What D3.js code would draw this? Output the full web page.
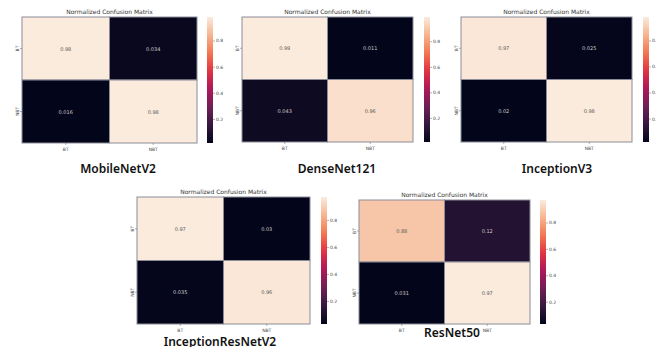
<!DOCTYPE html>
<html>
<head>
<meta charset="utf-8">
<script src="https://cdn.jsdelivr.net/npm/d3@7"></script>
<style>
  html, body { margin: 0; padding: 0; background: #fff; }
  svg { display: block; }
</style>
</head>
<body>
<svg id="chart" width="656" height="347"></svg>
<script>
// Normalized confusion matrices (rows: true class, columns: predicted class)
const classes = ["BT", "NBT"];
const models = ["MobileNetV2", "DenseNet121", "InceptionV3", "InceptionResNetV2", "ResNet50"];
const mobileNetV2 = [[0.98, 0.034], [0.016, 0.98]];
const denseNet121 = [[0.99, 0.011], [0.043, 0.96]];
const inceptionV3 = [[0.97, 0.025], [0.02, 0.98]];
const inceptionResNetV2 = [[0.97, 0.03], [0.035, 0.96]];
const resNet50 = [[0.88, 0.12], [0.031, 0.97]];
const colorbarTicks = [0.2, 0.4, 0.6, 0.8];
const panelTitle = "Normalized Confusion Matrix";

const matrices = [mobileNetV2, denseNet121, inceptionV3, inceptionResNetV2, resNet50];

// Panel placement on the page
const layout = [
  { x0: 22,  x1: 197, y0: 17,  y1: 143, cbx: 207, capX: 118, capY: 168 },
  { x0: 242, x1: 413, y0: 17,  y1: 142, cbx: 424, capX: 337, capY: 168 },
  { x0: 461, x1: 632, y0: 17,  y1: 142, cbx: 643, capX: 557, capY: 168 },
  { x0: 137, x1: 310, y0: 197, y1: 324, cbx: 321, capX: 220, capY: 341 },
  { x0: 359, x1: 530, y0: 200, y1: 324, cbx: 540, capX: 452, capY: 332 }
];

// "rocket" sequential colormap
const rocketPos = [0, 1 / 7, 2 / 7, 3 / 7, 4 / 7, 5 / 7, 6 / 7, 1];
const rocketStops = ["#03051a", "#35193e", "#701f57", "#ad1759", "#e13342", "#f37651", "#f6b48f", "#faebdd"];
const rocket = d3.scaleLinear()
  .domain(rocketPos)
  .range(rocketStops)
  .interpolate(d3.interpolateRgb);

const svg = d3.select("#chart");
svg.append("rect").attr("width", 656).attr("height", 347).attr("fill", "#fff");

const fmt = d3.format(".2~g");
const tickFont = "DejaVu Sans, sans-serif";

matrices.forEach((m, i) => {
  const L = layout[i];
  const g = svg.append("g");
  const flat = m.flat();
  const vmin = d3.min(flat), vmax = d3.max(flat);
  const norm = d3.scaleLinear().domain([vmin, vmax]).range([0, 1]).clamp(true);

  const x = d3.scaleBand().domain(classes).range([L.x0, L.x1]);
  const y = d3.scaleBand().domain(classes).range([L.y0, L.y1]);

  const cells = [];
  m.forEach((row, r) => row.forEach((v, c) => cells.push({ r: classes[r], c: classes[c], v })));

  g.selectAll("rect.cell").data(cells).join("rect")
    .attr("class", "cell")
    .attr("x", d => x(d.c))
    .attr("y", d => y(d.r))
    .attr("width", x.bandwidth())
    .attr("height", y.bandwidth())
    .attr("fill", d => rocket(norm(d.v)))
    .attr("stroke", "#8c8c99")
    .attr("stroke-width", 1);

  g.selectAll("text.annot").data(cells).join("text")
    .attr("class", "annot")
    .attr("x", d => x(d.c) + x.bandwidth() / 2)
    .attr("y", d => y(d.r) + y.bandwidth() / 2)
    .attr("text-anchor", "middle")
    .attr("dominant-baseline", "central")
    .attr("font-family", tickFont)
    .attr("font-size", 5)
    .attr("fill", d => norm(d.v) > 0.5 ? "#555" : "#ccc")
    .text(d => fmt(d.v));

  // title
  g.append("text")
    .attr("x", (L.x0 + L.x1) / 2)
    .attr("y", L.y0 - 3)
    .attr("text-anchor", "middle")
    .attr("font-family", tickFont)
    .attr("font-size", 6)
    .attr("fill", "#333")
    .text(panelTitle);

  // x tick labels
  classes.forEach(cl => {
    const cx = x(cl) + x.bandwidth() / 2;
    g.append("line").attr("x1", cx).attr("x2", cx).attr("y1", L.y1).attr("y2", L.y1 + 2)
      .attr("stroke", "#666").attr("stroke-width", 0.5);
    g.append("text")
      .attr("x", cx).attr("y", L.y1 + 6)
      .attr("text-anchor", "middle").attr("dominant-baseline", "central")
      .attr("font-family", tickFont).attr("font-size", 4.5).attr("fill", "#444")
      .text(cl);
  });

  // y tick labels (rotated)
  classes.forEach(cl => {
    const cy = y(cl) + y.bandwidth() / 2;
    g.append("line").attr("x1", L.x0 - 2).attr("x2", L.x0).attr("y1", cy).attr("y2", cy)
      .attr("stroke", "#666").attr("stroke-width", 0.5);
    g.append("text")
      .attr("transform", `translate(${L.x0 - 5},${cy}) rotate(-90)`)
      .attr("text-anchor", "middle").attr("dominant-baseline", "central")
      .attr("font-family", tickFont).attr("font-size", 4.5).attr("fill", "#444")
      .text(cl);
  });

  // colorbar
  const cbW = 6;
  const cbScale = d3.scaleLinear().domain([vmin, vmax]).range([L.y1, L.y0]);
  const gradId = "grad" + i;
  const grad = svg.append("defs").append("linearGradient")
    .attr("id", gradId).attr("x1", 0).attr("x2", 0).attr("y1", 1).attr("y2", 0);
  d3.range(0, 1.0001, 0.05).forEach(t => {
    grad.append("stop").attr("offset", t).attr("stop-color", rocket(t));
  });
  g.append("rect")
    .attr("x", L.cbx).attr("y", L.y0)
    .attr("width", cbW).attr("height", L.y1 - L.y0)
    .attr("fill", `url(#${gradId})`);

  const cbAxis = d3.axisRight(cbScale).tickValues(colorbarTicks).tickSize(2).tickFormat(d3.format(".1f"));
  const ag = g.append("g").attr("transform", `translate(${L.cbx + cbW},0)`).call(cbAxis);
  ag.select(".domain").remove();
  ag.selectAll(".tick line").attr("stroke", "#666").attr("stroke-width", 0.5);
  ag.selectAll(".tick text")
    .attr("font-family", tickFont).attr("font-size", 4.5).attr("fill", "#444").attr("x", 3);

  // model caption
  g.append("text")
    .attr("x", L.capX).attr("y", L.capY)
    .attr("text-anchor", "middle").attr("dominant-baseline", "central")
    .attr("font-family", "'Noto Sans', Lato, sans-serif")
    .attr("font-weight", 600)
    .attr("font-size", 12)
    .attr("fill", "#111")
    .text(models[i]);
});
</script>
</body>
</html>
